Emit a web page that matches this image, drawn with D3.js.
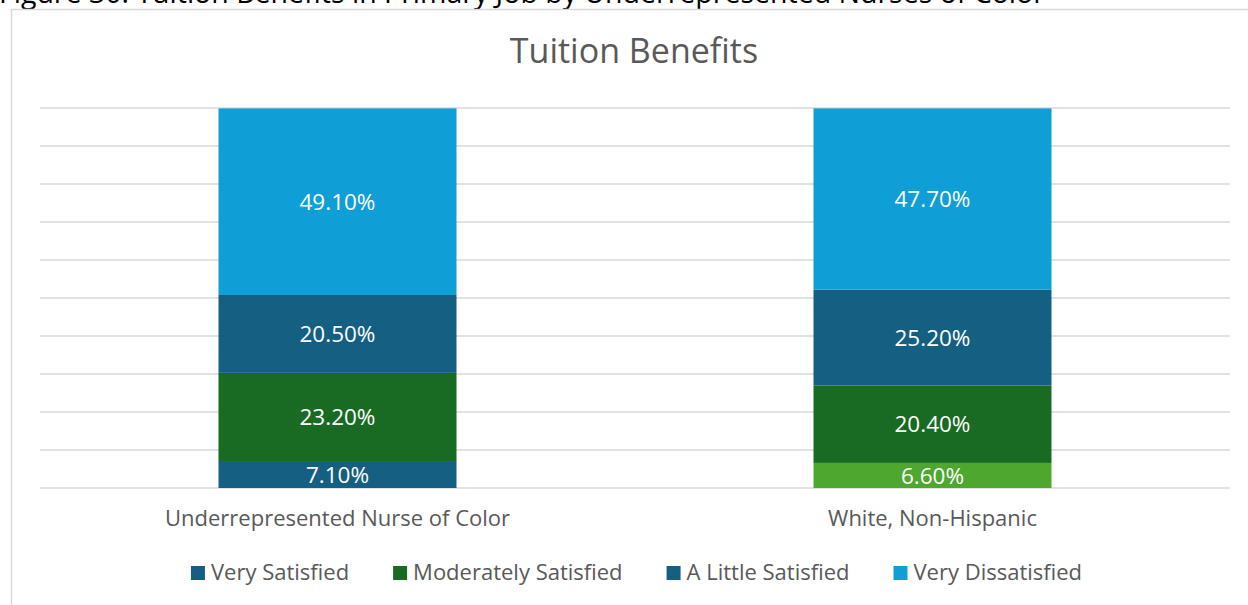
<!DOCTYPE html>
<html><head><meta charset="utf-8">
<script src="https://cdn.jsdelivr.net/npm/d3@7"></script>
<style>
html,body{margin:0;padding:0;background:#fff;overflow:hidden;}
svg{display:block;font-family:"Open Sans","Liberation Sans",Arial,sans-serif;}
</style></head>
<body>
<svg id="chart" width="1248" height="605"></svg>
<script>
const categories = ["Underrepresented Nurse of Color", "White, Non-Hispanic"];
const seriesNames = ["Very Satisfied", "Moderately Satisfied", "A Little Satisfied", "Very Dissatisfied"];
const verySatisfied = [7.1, 6.6];
const moderatelySatisfied = [23.2, 20.4];
const aLittleSatisfied = [20.5, 25.2];
const veryDissatisfied = [49.1, 47.7];
const yTicks = [0, 10, 20, 30, 40, 50, 60, 70, 80, 90, 100];
const seriesColors = ["#156082", "#196B24", "#156082", "#0F9ED5"];
const pointOverride = {series: 0, category: 1, color: "#4EA72E"};

const figureCaption = "Figure 30: Tuition Benefits in Primary Job by Underrepresented Nurses of Color";
const chartTitle = "Tuition Benefits";

const FONT = "Open Sans, Liberation Sans, Arial, sans-serif";
const svg = d3.select("#chart");
const W = 1248, H = 605;
const plot = {left: 40, right: 1230, top: 108, bottom: 488};

// caption (cut off at top)
svg.append("text").attr("x", -1).attr("y", 2.5)
  .attr("font-size", 28.5).attr("fill", "#000").text(figureCaption);

// frame
svg.append("path").attr("d", `M11.5,${H} L11.5,9.5 L${W},9.5`)
  .attr("fill", "none").attr("stroke", "#d9d9d9").attr("stroke-width", 1.5);

// title
svg.append("text").attr("x", 634).attr("y", 63).attr("text-anchor", "middle")
  .attr("font-size", 34).attr("fill", "#595959").text(chartTitle);

const x = d3.scaleBand().domain(categories).range([plot.left, plot.right]).paddingInner(0.6).paddingOuter(0.3);
const y = d3.scaleLinear().domain([0, 100]).range([plot.bottom, plot.top]);

// gridlines
svg.append("g").selectAll("line").data(yTicks).join("line")
  .attr("x1", plot.left).attr("x2", plot.right)
  .attr("y1", d => y(d)).attr("y2", d => y(d))
  .attr("stroke", "#d9d9d9").attr("stroke-width", 1.3);

const rows = categories.map((c, i) => ({
  cat: c,
  [seriesNames[0]]: verySatisfied[i],
  [seriesNames[1]]: moderatelySatisfied[i],
  [seriesNames[2]]: aLittleSatisfied[i],
  [seriesNames[3]]: veryDissatisfied[i]
}));
const stacked = d3.stack().keys(seriesNames)(rows);

const bars = svg.append("g");
stacked.forEach((layer, si) => {
  layer.forEach((d, ci) => {
    let col = seriesColors[si];
    if (pointOverride.series === si && pointOverride.category === ci) col = pointOverride.color;
    bars.append("rect")
      .attr("x", x(d.data.cat)).attr("width", x.bandwidth())
      .attr("y", y(d[1])).attr("height", y(d[0]) - y(d[1]))
      .attr("fill", col);
  });
});
stacked.forEach((layer, si) => {
  layer.forEach((d, ci) => {
    bars.append("text")
      .attr("x", x(d.data.cat) + x.bandwidth() / 2)
      .attr("y", (y(d[0]) + y(d[1])) / 2)
      .attr("dy", "0.36em").attr("text-anchor", "middle")
      .attr("font-size", 22.5).attr("fill", "#fff")
      .text((d[1] - d[0]).toFixed(2) + "%");
  });
});

// category axis labels
const xAxis = d3.axisBottom(x).tickSize(0).tickPadding(0);
const gx = svg.append("g").attr("transform", `translate(0,${plot.bottom})`).call(xAxis);
gx.select(".domain").remove();
gx.selectAll("text").attr("font-size", 22).attr("fill", "#595959")
  .attr("font-family", FONT)
  .attr("dy", null).attr("y", 38);

// legend
const leg = svg.append("g");
const items = leg.selectAll("g").data(seriesNames).join("g");
items.append("rect").attr("width", 14).attr("height", 14).attr("y", -14)
  .attr("fill", (d, i) => seriesColors[i]);
items.append("text").attr("x", 20).attr("y", 0).attr("font-size", 22)
  .attr("fill", "#595959").text(d => d);
let pos = 0; const gap = 44; const offs = [];
items.each(function() {
  const w = 20 + d3.select(this).select("text").node().getComputedTextLength();
  offs.push(pos); pos += w + gap;
});
const total = pos - gap;
const startX = 636.5 - total / 2;
items.attr("transform", (d, i) => `translate(${startX + offs[i]},580)`);
</script>
</body></html>
